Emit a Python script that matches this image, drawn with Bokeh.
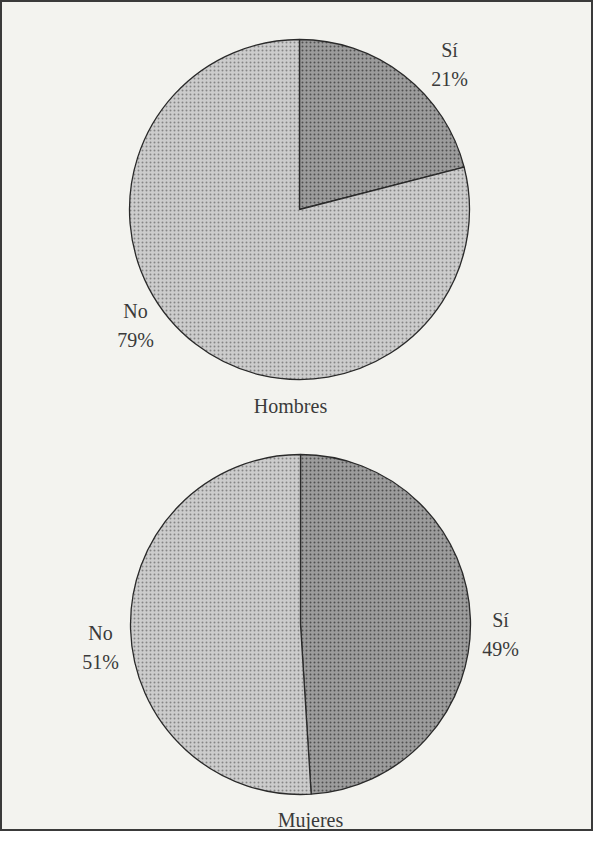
import numpy as np
from bokeh.plotting import figure
from bokeh.models import Range1d, ColumnDataSource
from bokeh.core.properties import value
from bokeh.embed import file_html
from bokeh.resources import INLINE

# ---- data ----
groups = ["Hombres", "Mujeres"]
answers = ["Sí", "No"]
hombres_pct = [21, 79]
mujeres_pct = [49, 51]

# ---- layout (picture pixel coordinates, origin top-left of figure) ----
W, H = 593, 831
centers_x = [299, 300]
centers_y_pix = [209, 624]
radius = 170
fills = ["#9c9c9c", "#cccccc"]
hatch_cols = ["#505050", "#858585"]

# label positions for [Sí, No] of each pie
label_pos = {
    "Hombres": [(449, 64), (135, 325)],
    "Mujeres": [(500, 634), (100, 647)],
}
title_pos = {"Hombres": (290, 405), "Mujeres": (310, 819)}

def py(y_pix):
    return H - y_pix

p = figure(width=W, height=H, output_backend="svg", toolbar_location=None,
           x_range=Range1d(0, W), y_range=Range1d(0, H),
           background_fill_color="#f3f3ef", border_fill_color="#f3f3ef",
           min_border=0)
p.axis.visible = False
p.grid.visible = False
p.outline_line_color = "#3a3a3a"
p.outline_line_width = 3

font = value("Liberation Serif")

for gi, (g, vals) in enumerate(zip(groups, [hombres_pct, mujeres_pct])):
    fr = np.array(vals, dtype=float) / sum(vals)
    cum = np.concatenate([[0], np.cumsum(fr)])
    start = np.pi / 2 - 2 * np.pi * cum[:-1]
    end = np.pi / 2 - 2 * np.pi * cum[1:]
    src = ColumnDataSource(dict(
        x=[centers_x[gi]] * len(vals), y=[py(centers_y_pix[gi])] * len(vals),
        start=start, end=end, fill=fills, hatch=hatch_cols))
    p.wedge(x="x", y="y", radius=radius, start_angle="start", end_angle="end",
            direction="clock", source=src, fill_color="fill",
            hatch_pattern="dot", hatch_color="hatch", hatch_scale=4, hatch_weight=1.2,
            line_color="#2a2a2a", line_width=1.3)
    lx = [pt[0] for pt in label_pos[g]]
    ly = [py(pt[1]) for pt in label_pos[g]]
    txt = [f"{a}\n{v}%" for a, v in zip(answers, vals)]
    p.text(x=lx, y=ly, text=txt, text_font=font, text_font_size="20px",
           text_color="#3a3a3a", text_align="center", text_baseline="middle",
           text_line_height=1.3)
    tx, ty = title_pos[g]
    p.text(x=[tx], y=[py(ty)], text=[g], text_font=font, text_font_size="20px",
           text_color="#3a3a3a", text_align="center", text_baseline="middle")

open("out.html", "w").write(file_html(p, INLINE))
